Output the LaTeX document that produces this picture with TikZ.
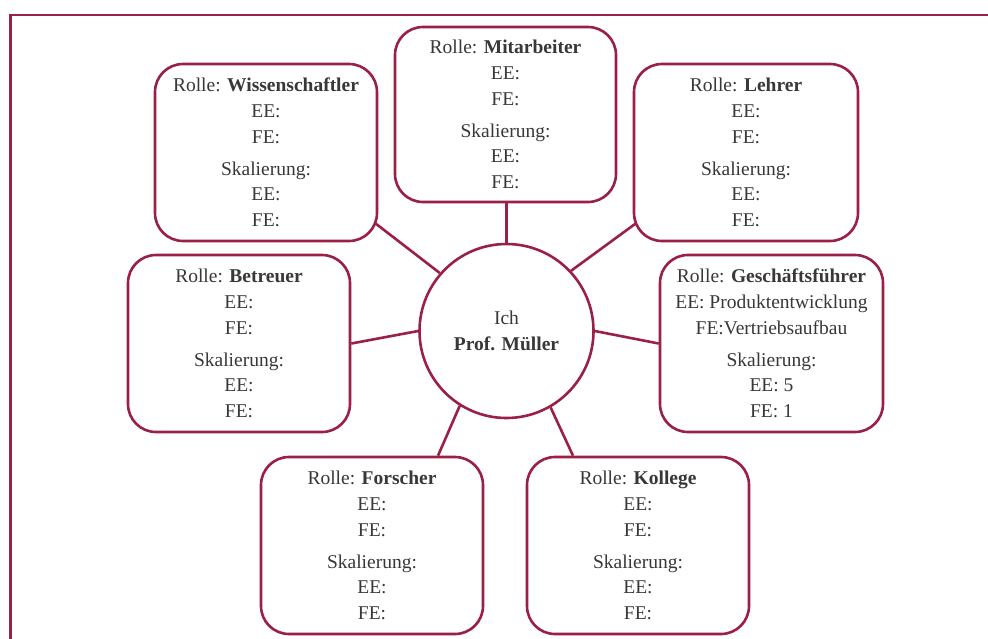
\documentclass[tikz,border=0pt]{standalone}
\usepackage{fontspec}
\setmainfont{Liberation Serif}
\usetikzlibrary{calc}
\definecolor{maroon}{HTML}{9B2046}
\definecolor{txt}{HTML}{383838}
\newcommand\rolebox[5]{Rolle: \textbf{#1}\\#2\\#3\\[6.5pt]Skalierung:\\#4\\#5}
\begin{document}
\begin{tikzpicture}[x=1pt,y=-1pt,
  rolenode/.style={draw=maroon, line width=2.6pt, rounded corners=28pt,
    minimum width=222pt, minimum height=177pt, inner sep=0pt, align=center,
    text=txt, font=\fontsize{19.5pt}{25.6pt}\selectfont},
  centernode/.style={circle, draw=maroon, line width=2.6pt, minimum size=174pt,
    inner sep=0pt, align=center, text=txt, font=\fontsize{19.5pt}{26pt}\selectfont},
  link/.style={draw=maroon, line width=2.6pt}]
\useasboundingbox (0,0) rectangle (988,638);
\clip (0,0) rectangle (988,638);
\fill[white] (0,0) rectangle (988,638);
% frame
\draw[maroon, line width=2.6pt] (10.5,700) -- (10.5,15) -- (1000,15);
% center
\node[centernode] (circ) at (506.5,331) {Ich\\\textbf{Prof. Müller}};
% boxes
\node[rolenode, minimum width=221pt, minimum height=175pt] (mit) at (505.5,114.5)
  {\rolebox{Mitarbeiter}{EE:}{FE:}{EE:}{FE:}};
\node[rolenode] (wiss) at (266,152.5) {\rolebox{Wissenschaftler}{EE:}{FE:}{EE:}{FE:}};
\node[rolenode, minimum width=224pt] (lehr) at (746,152.5) {\rolebox{Lehrer}{EE:}{FE:}{EE:}{FE:}};
\node[rolenode] (betr) at (239,343.5) {\rolebox{Betreuer}{EE:}{FE:}{EE:}{FE:}};
\node[rolenode, minimum width=223pt] (gesch) at (771.5,343.5)
  {\rolebox{Geschäftsführer}{EE: Produktentwicklung}{FE:Vertriebsaufbau}{EE: 5}{FE: 1}};
\node[rolenode] (forsch) at (372,545.5) {\rolebox{Forscher}{EE:}{FE:}{EE:}{FE:}};
\node[rolenode] (koll) at (638,545.5) {\rolebox{Kollege}{EE:}{FE:}{EE:}{FE:}};
% connectors
\draw[link] (circ.north) -- (circ.north |- mit.south);
\draw[link] (circ.139) -- ($(wiss.east)+(-4,70)$);
\draw[link] (circ.43) -- ($(lehr.west)+(3,71)$);
\draw[link] (circ.180) -- (betr.east);
\draw[link] (circ.0) -- (gesch.west);
\draw[link] (circ.238) -- ($(forsch.north)+(66,0)$);
\draw[link] (circ.300) -- ($(koll.north)+(-65,0)$);
\end{tikzpicture}
\end{document}
